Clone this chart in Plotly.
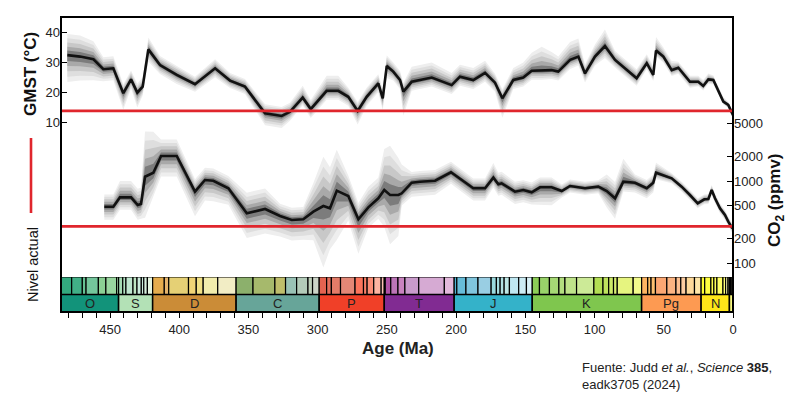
import plotly.graph_objects as go

# ---------------- data ----------------
GMST_AGE = [480.8, 471.6, 462.0, 454.8, 447.6, 440.4, 434.8, 430.3, 426.4, 422.3,
            413.9, 401.8, 388.6, 374.1, 363.3, 352.5, 338.0, 326.0, 320.0, 310.8,
            305.0, 293.5, 285.1, 277.9, 271.1, 264.6, 256.2, 253.0, 250.1, 245.4,
            240.5, 238.1, 232.1, 217.6, 203.2, 197.2, 187.6, 179.1, 171.9, 166.6,
            158.7, 151.5, 145.4, 138.2, 131.0, 126.2, 117.7, 111.7, 106.9, 99.7,
            92.5, 85.2, 69.6, 62.3, 57.6, 55.6, 50.3, 44.3, 39.5, 31.1,
            25.1, 21.5, 17.8, 14.2, 7.0, 3.4, 0.9, 0.0]
GMST = [32.3, 31.8, 30.9, 27.6, 27.9, 19.6, 24.2, 19.8, 21.8, 34.2,
        29.0, 25.7, 22.6, 27.9, 23.8, 21.8, 12.9, 12.0, 13.4, 18.1,
        14.3, 20.4, 20.4, 18.4, 13.7, 18.4, 22.9, 17.9, 28.7, 26.8,
        24.0, 20.1, 23.4, 24.8, 22.3, 25.1, 24.0, 26.4, 23.1, 17.9,
        24.0, 24.8, 27.1, 27.1, 27.3, 26.8, 30.7, 31.8, 26.2, 31.8,
        35.3, 30.7, 24.6, 29.6, 25.7, 33.8, 31.8, 27.3, 28.1, 23.4,
        23.4, 22.0, 24.2, 24.0, 16.8, 15.7, 13.4, 12.3]
# outer uncertainty envelope (degC above / below the median)
GMST_UP = [7, 7, 6, 4, 4, 3, 3, 3, 3, 4,
           3, 3, 2.5, 3, 2.5, 2.5, 3, 3, 3, 4,
           3, 5, 5, 3, 3, 3, 3, 3, 3.5, 3,
           3, 3, 5, 5, 4, 4, 4, 4, 3, 3,
           4, 5, 6, 8, 6, 5, 6, 6, 3, 4,
           5.5, 3, 3, 3, 3, 4.5, 3, 3, 2, 2,
           2, 2, 2, 1.5, 1.5, 1, 1, 1]
GMST_DOWN = [9, 8, 7, 4, 4, 5.5, 3, 5, 3, 4,
             3, 3, 2.5, 3, 2.5, 2.5, 4, 4, 3, 2.5,
             3, 3, 3, 3, 4.5, 3, 3, 4, 4, 3,
             3, 8, 3, 3, 3, 3, 3, 3, 3, 6.5,
             3, 3, 3, 3, 3, 3, 3, 3, 3, 3,
             4, 2.5, 2.5, 2, 2, 2, 2, 2, 2, 2,
             1.5, 1.5, 1.5, 1.5, 1, 1, 1, 1]

CO2_AGE = [454.1, 447.6, 442.8, 434.8, 430.0, 427.6, 424.7, 418.7, 413.1, 401.8,
           388.6, 381.4, 375.4, 364.5, 351.2, 338.0, 327.2, 318.7, 310.4, 303.1,
           295.9, 291.1, 286.2, 277.9, 270.6, 263.4, 256.2, 251.9, 247.7, 241.7,
           239.3, 232.1, 226.1, 215.2, 203.7, 187.6, 179.1, 173.1, 169.5, 167.1,
           157.5, 151.5, 145.4, 139.4, 131.0, 123.7, 117.7, 106.9, 97.3, 91.2,
           85.2, 79.2, 70.8, 62.3, 57.6, 55.6, 44.3, 37.1, 31.1, 25.5,
           20.7, 17.8, 15.4, 13.0, 9.4, 5.8, 3.4, 0.5]
CO2 = [486, 486, 632, 632, 509, 525, 1128, 1262, 2018, 2018,
       741, 1028, 1008, 815, 404, 456, 374, 334, 341, 423,
       495, 465, 762, 656, 341, 477, 615, 777, 675, 675,
       708, 953, 980, 1008, 1277, 815, 815, 1097, 911, 937,
       741, 777, 728, 838, 838, 755, 869, 815, 852, 755,
       615, 980, 953, 815, 953, 1262, 1079, 852, 675, 535,
       598, 603, 777, 615, 465, 385, 319, 265]
# outer uncertainty envelope in decades (log10 units) above / below the median
CO2_UP = [0.15, 0.15, 0.2, 0.2, 0.2, 0.2, 0.55, 0.5, 0.2, 0.2,
          0.15, 0.15, 0.15, 0.15, 0.25, 0.25, 0.15, 0.15, 0.15, 0.35,
          0.6, 0.5, 0.5, 0.25, 0.2, 0.25, 0.25, 0.5, 0.6, 0.45,
          0.35, 0.13, 0.13, 0.13, 0.13, 0.12, 0.12, 0.18, 0.14, 0.14,
          0.12, 0.12, 0.12, 0.12, 0.12, 0.08, 0.08, 0.08, 0.08, 0.2,
          0.2, 0.28, 0.1, 0.1, 0.1, 0.12, 0.06, 0.06, 0.06, 0.06,
          0.06, 0.06, 0.06, 0.06, 0.06, 0.06, 0.06, 0.06]
CO2_DOWN = [0.16, 0.16, 0.15, 0.15, 0.18, 0.18, 0.5, 0.3, 0.25, 0.25,
            0.3, 0.25, 0.25, 0.2, 0.3, 0.3, 0.25, 0.25, 0.25, 0.35,
            0.75, 0.5, 0.6, 0.3, 0.42, 0.25, 0.25, 0.45, 0.6, 0.5,
            0.15, 0.17, 0.17, 0.17, 0.14, 0.15, 0.15, 0.12, 0.14, 0.14,
            0.15, 0.15, 0.15, 0.22, 0.22, 0.08, 0.08, 0.08, 0.08, 0.2,
            0.25, 0.12, 0.12, 0.12, 0.12, 0.08, 0.06, 0.06, 0.06, 0.06,
            0.06, 0.06, 0.06, 0.06, 0.06, 0.06, 0.06, 0.06]

GMST_PREINDUSTRIAL = 13.7
CO2_PREINDUSTRIAL = 280

PERIOD_NAMES = ["O", "S", "D", "C", "P", "T", "J", "K", "Pg", "N", "Q"]
PERIOD_BOUNDS = [485.4, 443.8, 419.2, 358.9, 298.9, 251.902, 201.4, 145.0, 66.0, 23.03, 2.58, 0.0]
PERIOD_COLORS = ["#12937A", "#B3E1B6", "#CB8C37", "#67A599", "#F04028", "#812B92",
                 "#34B2C9", "#7FC64E", "#FD9A52", "#FFE619", "#F9F97F"]

STAGE_BOUNDS = [485.4, 477.7, 470.0, 467.3, 458.4, 453.0, 445.2,
                443.8, 440.8, 438.5, 433.4, 430.5, 427.4, 425.6, 423.0,
                419.2, 410.8, 407.6, 393.3, 387.7, 382.7, 372.2,
                358.9, 346.7, 330.9, 323.2, 315.2, 307.0, 303.7,
                298.9, 293.52, 290.1, 283.5, 273.01, 266.9, 264.28, 259.51, 254.14,
                251.902, 251.2, 247.2, 242.0, 237.0, 227.0, 208.5,
                201.4, 199.5, 192.9, 184.2, 174.7, 170.9, 168.2, 165.3, 161.5, 154.8, 149.2,
                145.0, 139.8, 132.6, 125.77, 121.4, 113.0, 100.5, 93.9, 89.8, 86.3, 83.6, 72.1,
                66.0, 61.6, 59.2, 56.0, 47.8, 41.2, 37.71, 33.9, 27.82,
                23.03, 20.44, 15.97, 13.82, 11.63, 7.246, 5.333, 3.6,
                2.58, 1.8, 0.774, 0.129, 0.0]
STAGE_COLORS = ["#33A97E", "#41B087", "#66C092", "#74C69C", "#8CD094", "#99D69F", "#A6DBAB",
                "#A6DCB5", "#B3E2C2", "#BFE6CF", "#BFE6C3", "#CCECDD", "#CCECDD", "#D9F0DF", "#E6F5E1",
                "#E5AC4D", "#E5B46C", "#E5D075", "#F1D576", "#F1E185", "#F2EDAD", "#F2EDC5",
                "#8CB06C", "#A6B96C", "#BFBE6B", "#99C2B5", "#B3CBB9", "#BFD0BA", "#CCD4C7",
                "#E36350", "#E36F5C", "#E37B68", "#E38776", "#FB745C", "#FB8069", "#FB8D76", "#FCB4A2", "#FCC0B2",
                "#A4469F", "#B051A5", "#BC75B7", "#C983BF", "#C99BCB", "#D6AAD3", "#E3B9DB",
                "#4EB3D3", "#67BCD8", "#80C5DD", "#99CEE3", "#9AD9DD", "#A6DDE0", "#B3E2E3", "#BFE7E5",
                "#BFE7F1", "#CCECF4", "#D9F1F7",
                "#8CCD57", "#99D36A", "#A6D975", "#B3DF7F", "#BFE48A", "#CCEA97", "#B3DE53", "#BFE35D",
                "#CCE968", "#D9EF74", "#E6F47F", "#F2FA8C",
                "#FDB462", "#FEBF65", "#FDBF6F", "#FCA773", "#FCB482", "#FDC091", "#FDCDA1", "#FED99A", "#FEE6AA",
                "#FFFF33", "#FFFF41", "#FFFF4D", "#FFFF59", "#FFFF66", "#FFFF73", "#FFFFB3", "#FFFFBF",
                "#FFF2AE", "#FFF2BA", "#FFF2C7", "#FFF2D3"]

GMST_TICKS = [10, 20, 30, 40]
CO2_TICKS = [100, 200, 500, 1000, 2000, 5000]

# ---------------- styling ----------------
FONT = "Arial, Liberation Sans, Helvetica, sans-serif"
RED = "#E0262D"
BAND_LEVELS = [1.0, 0.8, 0.6, 0.4, 0.22]
BAND_COLORS = ["#eeeeee", "#dedede", "#c8c8c8", "#a9a9a9", "#7c7c7c"]
BAR_DOMAIN = 35 / 295  # fraction of plot height used by the time-scale bar
PW, PH = 672, 295      # plot-area size in px, used to place paper-referenced labels

fig = go.Figure()

# GMST envelope + median
for f, c in zip(BAND_LEVELS, BAND_COLORS):
    hi = [v + u * f for v, u in zip(GMST, GMST_UP)]
    lo = [v - d * f for v, d in zip(GMST, GMST_DOWN)]
    fig.add_trace(go.Scatter(x=GMST_AGE + GMST_AGE[::-1], y=hi + lo[::-1], mode="lines",
                             fill="toself", fillcolor=c, line=dict(width=0, color=c),
                             hoverinfo="skip", xaxis="x", yaxis="y"))
fig.add_trace(go.Scatter(x=GMST_AGE, y=GMST, mode="lines", line=dict(color="#111111", width=2.6),
                         xaxis="x", yaxis="y"))
fig.add_trace(go.Scatter(x=[PERIOD_BOUNDS[0], PERIOD_BOUNDS[-1]],
                         y=[GMST_PREINDUSTRIAL, GMST_PREINDUSTRIAL], mode="lines",
                         line=dict(color=RED, width=2.6), xaxis="x", yaxis="y", hoverinfo="skip"))

# CO2 envelope + median (log axis)
for f, c in zip(BAND_LEVELS, BAND_COLORS):
    hi = [v * 10 ** (u * f) for v, u in zip(CO2, CO2_UP)]
    lo = [v / 10 ** (d * f) for v, d in zip(CO2, CO2_DOWN)]
    fig.add_trace(go.Scatter(x=CO2_AGE + CO2_AGE[::-1], y=hi + lo[::-1], mode="lines",
                             fill="toself", fillcolor=c, line=dict(width=0, color=c),
                             hoverinfo="skip", xaxis="x", yaxis="y2"))
fig.add_trace(go.Scatter(x=CO2_AGE, y=CO2, mode="lines", line=dict(color="#111111", width=2.6),
                         xaxis="x", yaxis="y2"))
fig.add_trace(go.Scatter(x=[PERIOD_BOUNDS[0], PERIOD_BOUNDS[-1]],
                         y=[CO2_PREINDUSTRIAL, CO2_PREINDUSTRIAL], mode="lines",
                         line=dict(color=RED, width=2.6), xaxis="x", yaxis="y2", hoverinfo="skip"))

# geological time scale
st_young = STAGE_BOUNDS[1:]
st_len = [a - b for a, b in zip(STAGE_BOUNDS[:-1], STAGE_BOUNDS[1:])]
fig.add_trace(go.Bar(x=st_len, base=st_young, y=[1.5] * len(st_len), width=1, orientation="h",
                     marker=dict(color=STAGE_COLORS, line=dict(color="black", width=1.2)),
                     xaxis="x", yaxis="y3", hoverinfo="skip"))
pe_young = PERIOD_BOUNDS[1:]
pe_len = [a - b for a, b in zip(PERIOD_BOUNDS[:-1], PERIOD_BOUNDS[1:])]
fig.add_trace(go.Bar(x=pe_len, base=pe_young, y=[0.5] * len(pe_len), width=1, orientation="h",
                     marker=dict(color=PERIOD_COLORS, line=dict(color="black", width=1.5)),
                     xaxis="x", yaxis="y3", hoverinfo="skip"))

annotations = []
for name, a, b in zip(PERIOD_NAMES, PERIOD_BOUNDS[:-1], PERIOD_BOUNDS[1:]):
    if name == "Q":
        continue
    annotations.append(dict(x=(a + b) / 2, y=0.5, xref="x", yref="y3", text=name, showarrow=False,
                            font=dict(size=13, color="#222222", family=FONT)))

annotations += [
    dict(x=-30 / PW, y=(295 - 57) / PH, xref="paper", yref="paper", text="<b>GMST (°C)</b>",
         textangle=-90, showarrow=False, xanchor="center", yanchor="middle",
         font=dict(size=17, color="#111111", family=FONT)),
    dict(x=-28 / PW, y=(295 - 248) / PH, xref="paper", yref="paper", text="Nivel actual",
         textangle=-90, showarrow=False, xanchor="center", yanchor="middle",
         font=dict(size=14.5, color="#111111", family=FONT)),
    dict(x=(776 - 61) / PW, y=(295 - 183) / PH, xref="paper", yref="paper",
         text="<b>CO<sub>2</sub> (ppmv)</b>", textangle=-90, showarrow=False,
         xanchor="center", yanchor="middle", font=dict(size=17, color="#111111", family=FONT)),
    dict(x=(398 - 61) / PW, y=(295 - 331) / PH, xref="paper", yref="paper", text="<b>Age (Ma)</b>",
         showarrow=False, xanchor="center", yanchor="middle",
         font=dict(size=17, color="#222222", family=FONT)),
    dict(x=(580 - 61) / PW, y=(295 - 341) / PH, xref="paper", yref="paper",
         text="Fuente: Judd <i>et al.</i>, <i>Science</i> <b>385</b>,<br>eadk3705 (2024)",
         showarrow=False, xanchor="left", yanchor="top", align="left",
         font=dict(size=13, color="#222222", family=FONT)),
]

shapes = [
    dict(type="rect", xref="paper", yref="paper", x0=0, x1=1, y0=0, y1=1,
         line=dict(color="black", width=2), layer="above"),
    dict(type="line", xref="paper", yref="paper", x0=-30 / PW, x1=-30 / PW,
         y0=(295 - 196) / PH, y1=(295 - 121) / PH, line=dict(color=RED, width=2.6)),
]

# The page adds an 8px body margin, so the figure is 8px smaller than the window.
fig.update_layout(
    width=792, height=392,
    margin=dict(l=53, r=67, t=9, b=88, autoexpand=False),
    paper_bgcolor="white", plot_bgcolor="white", showlegend=False, barmode="overlay",
    font=dict(family=FONT, size=13, color="#222222"),
    xaxis=dict(range=[PERIOD_BOUNDS[0], 0], anchor="y3", domain=[0, 1],
               tickmode="linear", tick0=0, dtick=50, ticks="outside", ticklen=5, tickwidth=1.3,
               tickcolor="black",
               minor=dict(tick0=0, dtick=10, ticks="outside", ticklen=5, tickwidth=1.3, tickcolor="black",
                          showgrid=False),
               showgrid=False, zeroline=False, showline=False, tickfont=dict(size=13, color="#222222")),
    yaxis=dict(domain=[BAR_DOMAIN, 1], range=[10 - 155 / 3, 45], anchor="x",
               tickmode="array", tickvals=GMST_TICKS, ticks="inside", ticklen=6, tickwidth=1.3,
               tickcolor="black", showgrid=False, zeroline=False, showline=False,
               tickfont=dict(size=13, color="#222222")),
    yaxis2=dict(type="log", range=[3 - 96 / 82, 3 + 164 / 82], overlaying="y", side="right", anchor="x",
                tickmode="array", tickvals=CO2_TICKS, ticktext=[str(t) for t in CO2_TICKS],
                ticks="inside", ticklen=6, tickwidth=1.3, tickcolor="black",
                showgrid=False, zeroline=False, showline=False,
                tickfont=dict(size=13, color="#222222")),
    yaxis3=dict(domain=[0, BAR_DOMAIN], range=[0, 2], anchor="x", visible=False, fixedrange=True),
    annotations=annotations,
    shapes=shapes,
)

fig.write_html("out.html")
